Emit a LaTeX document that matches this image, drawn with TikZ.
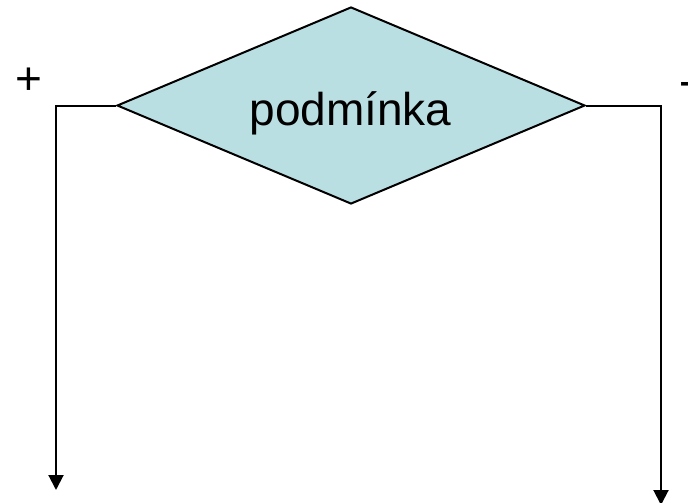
\documentclass[tikz,border=0pt]{standalone}
\usepackage{fontspec}
\setmainfont{Liberation Sans}
\usetikzlibrary{shapes.geometric,arrows.meta}
\definecolor{condfill}{RGB}{186,223,226}
\begin{document}
\begin{tikzpicture}[x=1pt,y=-1pt,
  flow/.style={draw=black,line width=2pt},
  branch/.style={flow,-{Triangle[width=15pt,length=15pt]}},
  cond/.style={shape=diamond,draw=black,fill=condfill,line width=2pt,
    minimum width=468pt,minimum height=197pt,inner sep=0pt},
  caption/.style={inner sep=0pt,font=\fontsize{46}{50}\selectfont}]
  \useasboundingbox (0,0) rectangle (688,503);
  \clip (0,0) rectangle (688,503);
  % decision diamond and its text
  \node[cond] (d) at (351,105.5) {};
  \node[caption,anchor=base] (t) at (350.5,125) {podmínka};
  % branch corners and ends
  \coordinate (lc) at (56,105.5);
  \coordinate (le) at (56,490);
  \coordinate (rc) at (661,105.5);
  \coordinate (re) at (661,505);
  \draw[branch] (d.west) -- (lc) -- (le);
  \draw[branch] (d.east) -- (rc) -- (re);
  % branch signs
  \node[caption,anchor=base] (plus) at (28.5,95) {+};
  \node[caption,anchor=base west] (minus) at (679,96) {-};
\end{tikzpicture}
\end{document}
